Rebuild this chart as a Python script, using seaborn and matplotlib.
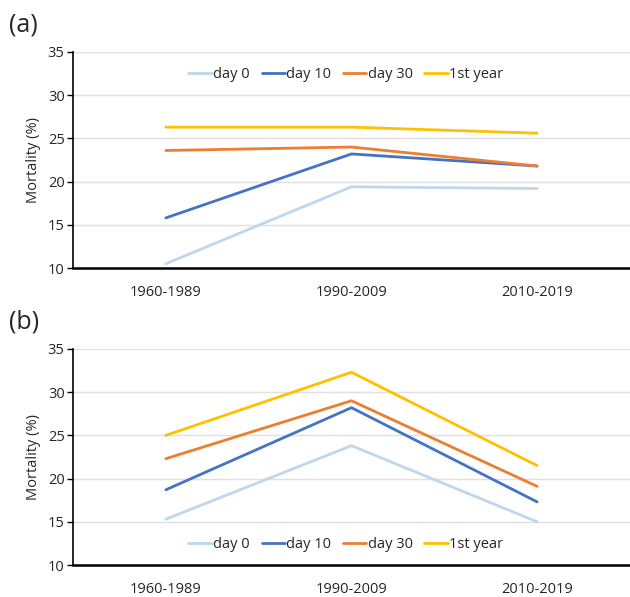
import matplotlib
matplotlib.use("Agg")
import matplotlib.pyplot as plt
import seaborn as sns
import pandas as pd

periods = ["1960-1989", "1990-2009", "2010-2019"]
series = ["day 0", "day 10", "day 30", "1st year"]
colors = ["#BDD7EE", "#4472C4", "#ED7D31", "#FFC000"]

a_day0 = [10.5, 19.4, 19.2]
a_day10 = [15.8, 23.2, 21.8]
a_day30 = [23.6, 24.0, 21.8]
a_year1 = [26.3, 26.3, 25.6]

b_day0 = [15.3, 23.8, 15.0]
b_day10 = [18.7, 28.2, 17.3]
b_day30 = [22.3, 29.0, 19.1]
b_year1 = [25.0, 32.3, 21.5]

yticks = [10, 15, 20, 25, 30, 35]

sns.set_theme(style="white")
plt.rcParams['font.family'] = ['Open Sans', 'DejaVu Sans']

def make_df(vals):
    rows = []
    for s, v in zip(series, vals):
        for p, y in zip(periods, v):
            rows.append({"period": p, "series": s, "value": y})
    df = pd.DataFrame(rows)
    df["x"] = df["period"].map({p: i for i, p in enumerate(periods)})
    return df

fig = plt.figure(figsize=(6.3, 5.97), dpi=100)
axA = fig.add_axes([0.1159, 0.551, 0.884, 0.362])
axB = fig.add_axes([0.1159, 0.0536, 0.884, 0.362])

panels = [(axA, [a_day0, a_day10, a_day30, a_year1], "(a)", "upper center"),
          (axB, [b_day0, b_day10, b_day30, b_year1], "(b)", "lower center")]

for ax, vals, lab, loc in panels:
    df = make_df(vals)
    sns.lineplot(data=df, x="x", y="value", hue="series", hue_order=series,
                 palette=colors, linewidth=2, ax=ax, legend=True)
    ax.set_xlim(-0.5, 2.5)
    ax.set_ylim(10, 35)
    ax.set_yticks(yticks)
    ax.set_xticks(range(len(periods)))
    ax.set_xticklabels(periods, fontsize=10.5)
    ax.tick_params(axis="y", labelsize=10.5, length=4, width=1, color="black", left=True, pad=2)
    ax.tick_params(axis="x", length=0, pad=12)
    ax.yaxis.grid(True, color="#E0E0E0", linewidth=1)
    ax.set_axisbelow(True)
    for sp in ["top", "right"]:
        ax.spines[sp].set_visible(False)
    ax.spines["left"].set_color("black")
    ax.spines["left"].set_linewidth(1.2)
    ax.spines["bottom"].set_color("black")
    ax.spines["bottom"].set_linewidth(1.8)
    ax.set_xlabel("")
    ax.set_ylabel("Mortality (%)", fontsize=10.5, labelpad=5)
    handles, labels = ax.get_legend_handles_labels()
    if loc == "upper center":
        ax.legend(handles, labels, loc="upper center", bbox_to_anchor=(0.49, 0.99),
                  ncol=4, frameon=False, fontsize=10.5, handlelength=1.6,
                  handletextpad=0.1, columnspacing=0.8)
    else:
        ax.legend(handles, labels, loc="lower center", bbox_to_anchor=(0.49, 0.0),
                  ncol=4, frameon=False, fontsize=10.5, handlelength=1.6,
                  handletextpad=0.1, columnspacing=0.8)
    fig.text(0.015, ax.get_position().y1 + 0.045, lab, fontsize=18, va="center", ha="left")

fig.savefig("out.png", dpi=100)
